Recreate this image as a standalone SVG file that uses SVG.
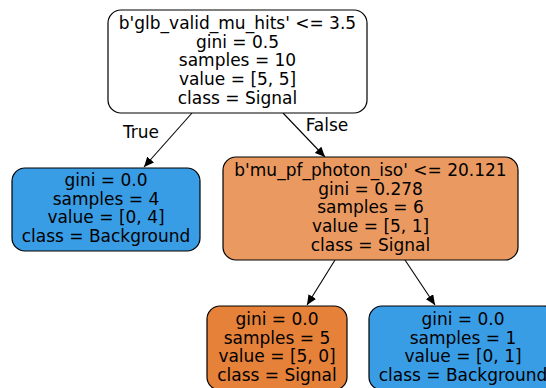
<svg xmlns="http://www.w3.org/2000/svg" width="546" height="388" viewBox="0 0 546 388">
<defs>
<style>
.box{stroke:#000;stroke-width:1.2}
.t{font-family:"DejaVu Sans",sans-serif;font-size:17px;fill:#000;text-anchor:middle}
.e{stroke:#000;stroke-width:1.1;fill:none}
</style>
<marker id="ah" markerWidth="11" markerHeight="9" refX="10" refY="4.5" orient="auto" markerUnits="userSpaceOnUse"><path d="M0,0 L10,4.5 L0,9 z" fill="#000"/></marker>
</defs>
<rect width="546" height="388" fill="#fff"/>
<g id="edges">
<line class="e" x1="192" y1="113" x2="144" y2="167" marker-end="url(#ah)"/>
<line class="e" x1="283" y1="113" x2="325" y2="157" marker-end="url(#ah)"/>
<line class="e" x1="335" y1="260" x2="307" y2="305" marker-end="url(#ah)"/>
<line class="e" x1="405" y1="260" x2="435" y2="305" marker-end="url(#ah)"/>
<text class="t" x="141" y="138">True</text>
<text class="t" x="327" y="131">False</text>
</g>
<g id="node0">
<rect class="box" x="108" y="10" width="259" height="103" rx="13" fill="#ffffff"/>
<text class="t" x="237.5" y="29">b'glb_valid_mu_hits' &lt;= 3.5</text>
<text class="t" x="237.5" y="47.7">gini = 0.5</text>
<text class="t" x="237.5" y="66.4">samples = 10</text>
<text class="t" x="237.5" y="85.1">value = [5, 5]</text>
<text class="t" x="237.5" y="103.8">class = Signal</text>
</g>
<g id="node1">
<rect class="box" x="12" y="168" width="188" height="83" rx="13" fill="#399de5"/>
<text class="t" x="106" y="186">gini = 0.0</text>
<text class="t" x="106" y="204.7">samples = 4</text>
<text class="t" x="106" y="223.4">value = [0, 4]</text>
<text class="t" x="106" y="242.1">class = Background</text>
</g>
<g id="node2">
<rect class="box" x="223" y="157" width="295" height="103" rx="13" fill="#ea9a61"/>
<text class="t" x="370.5" y="176">b'mu_pf_photon_iso' &lt;= 20.121</text>
<text class="t" x="370.5" y="194.7">gini = 0.278</text>
<text class="t" x="370.5" y="213.4">samples = 6</text>
<text class="t" x="370.5" y="232.1">value = [5, 1]</text>
<text class="t" x="370.5" y="250.8">class = Signal</text>
</g>
<g id="node3">
<rect class="box" x="207" y="306" width="140" height="84" rx="13" fill="#e58139"/>
<text class="t" x="277" y="325">gini = 0.0</text>
<text class="t" x="277" y="343.7">samples = 5</text>
<text class="t" x="277" y="362.4">value = [5, 0]</text>
<text class="t" x="277" y="381.1">class = Signal</text>
</g>
<g id="node4">
<rect class="box" x="369" y="306" width="188" height="84" rx="13" fill="#399de5"/>
<text class="t" x="463" y="325">gini = 0.0</text>
<text class="t" x="463" y="343.7">samples = 1</text>
<text class="t" x="463" y="362.4">value = [0, 1]</text>
<text class="t" x="463" y="381.1">class = Background</text>
</g>
</svg>
